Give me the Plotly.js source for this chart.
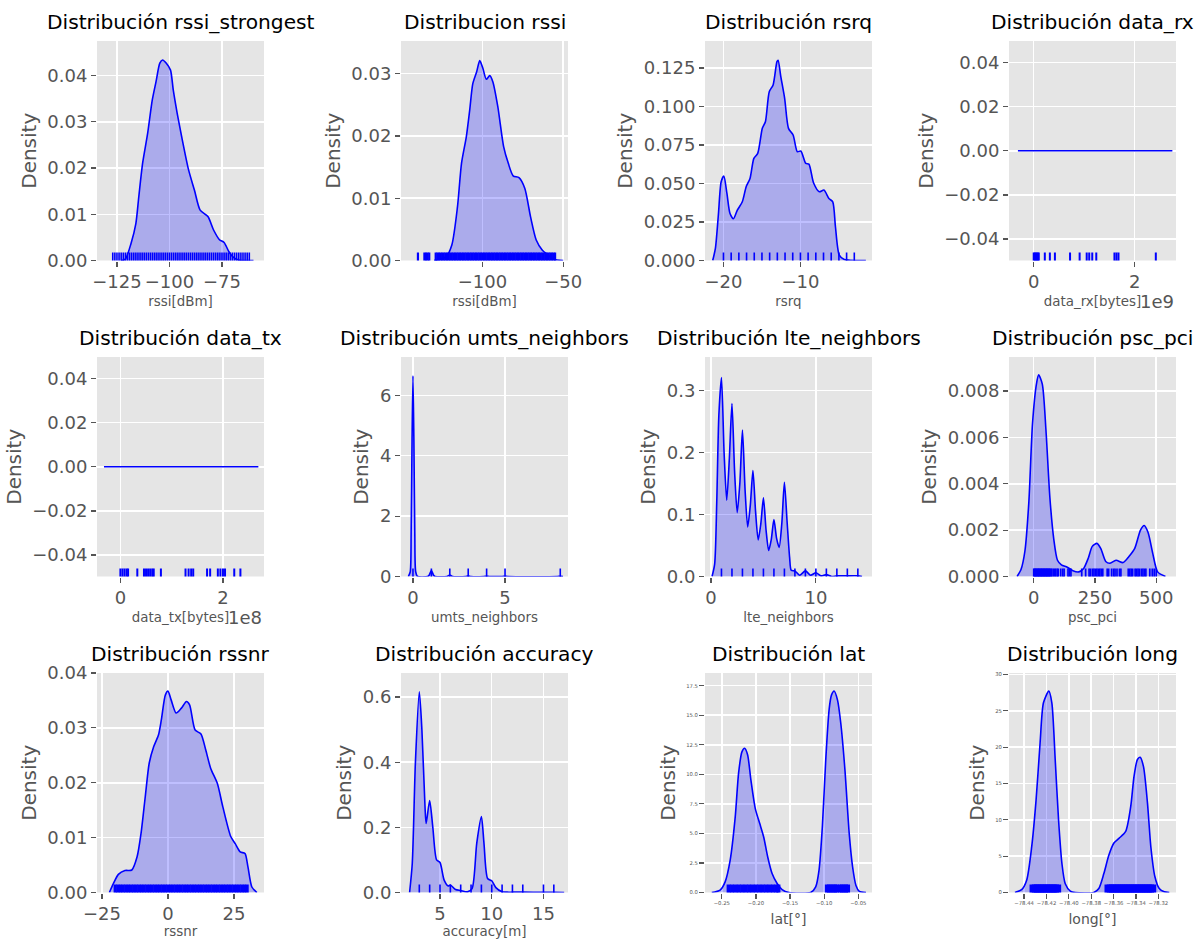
<!DOCTYPE html>
<html>
<head>
<meta charset="utf-8">
<script src="https://cdn.plot.ly/plotly-3.0.1.min.js"></script>
<style>
  html, body { margin: 0; padding: 0; background: white; overflow: hidden; }
</style>
</head>
<body>
<div id="chart" style="width:1199px;height:939px"></div>
<script>
// densities and rug values
const rssiStrongestX = [-123, -121, -118.3, -116, -114.6, -112.8, -110.4, -108.2, -106.4, -104.6, -103.3, -101.5, -99.5, -98.2, -96.3, -94.2, -90.9, -88.1, -85.4, -81.7, -79, -76.2, -74, -71.7, -69.8, -67, -60]
const rssiStrongestY = [0, 0.0003, 0.0037, 0.008, 0.0138, 0.021, 0.0275, 0.0347, 0.0387, 0.0427, 0.0434, 0.0427, 0.0412, 0.0369, 0.0318, 0.0268, 0.0196, 0.0152, 0.0109, 0.0095, 0.0066, 0.0045, 0.0039, 0.0019, 0.0008, 0.0001, 0]
const rssiStrongestRug = [-127, -126, -125, -124, -123, -122, -121, -120, -119, -118, -117, -116, -115, -114, -113, -112, -111, -110, -109, -108, -107, -106, -105, -104, -103, -102, -101, -100, -99, -98, -97, -96, -95, -94, -93, -92, -91, -90, -89, -88, -87, -86, -85, -84, -83, -82, -81, -80, -79, -78, -77, -76, -75, -74, -73, -72, -71, -70, -69, -68, -67, -66, -65, -64, -63, -62]

const rssiX = [-130, -122.6, -119, -115.5, -113, -110, -107.9, -106, -103.6, -101.7, -99.8, -97.6, -95.5, -93.6, -90.5, -86.9, -84, -81, -77.4, -73.8, -70.2, -66.7, -63, -59.5, -56, -50]
const rssiY = [0, 0.0006, 0.0025, 0.0086, 0.0156, 0.0199, 0.0242, 0.0284, 0.0303, 0.0321, 0.0309, 0.0291, 0.0297, 0.0287, 0.0247, 0.0183, 0.0156, 0.0136, 0.0133, 0.0116, 0.007, 0.0033, 0.0017, 0.0009, 0.0002, 0]
const rssiRug = [-140, -136, -135, -134, -133, -129, -128, -127, -126, -125, -124, -123, -122, -121, -120, -119, -118, -117, -116, -115, -114, -113, -112, -111, -110, -109, -108, -107, -106, -105, -104, -103, -102, -101, -100, -99, -98, -97, -96, -95, -94, -93, -92, -91, -90, -89, -88, -87, -86, -85, -84, -83, -82, -81, -80, -79, -78, -77, -76, -75, -74, -73, -72, -71, -70, -69, -68, -67, -66, -65, -64, -63, -62, -61, -60, -59, -58, -57, -56, -55]

const rsrqX = [-21.4, -21.05, -20.65, -20.3, -19.95, -19.55, -19.15, -18.7, -18.2, -17.55, -17.05, -16.55, -16.05, -15.55, -14.95, -14.55, -14.05, -13.55, -13.05, -12.9, -12.55, -12.05, -11.55, -10.95, -10.4, -9.95, -9.3, -8.9, -8.3, -7.55, -6.95, -6.3, -5.8, -5.45, -4.95, -4.3, -3.55, -1.5]
const rsrqY = [0, 0.0078, 0.0305, 0.0511, 0.0548, 0.0435, 0.0305, 0.0271, 0.0327, 0.0381, 0.0479, 0.0533, 0.0663, 0.0695, 0.0858, 0.0901, 0.1096, 0.114, 0.1291, 0.13, 0.1194, 0.1053, 0.0858, 0.0815, 0.0706, 0.0711, 0.063, 0.0626, 0.0505, 0.0446, 0.0457, 0.0403, 0.0381, 0.0219, 0.0035, 0.0006, 0.0002, 0]
const rsrqRug = [-20, -19, -18, -17, -16, -15, -14, -13, -12, -11, -10, -9, -8, -7, -6, -5, -4, -3]

const dataRxX = [-0.313e9, 2.748e9]
const dataRxY = [0, 0]
const dataRxRug = [0, 0.02e9, 0.04e9, 0.06e9, 0.08e9, 0.1e9, 0.22e9, 0.32e9, 0.42e9, 0.72e9, 0.91e9, 1.05e9, 1.1e9, 1.16e9, 1.24e9, 1.6e9, 1.64e9, 1.68e9, 2.42e9]

const dataTxX = [-0.32e8, 2.69e8]
const dataTxY = [0, 0]
const dataTxRug = [0, 0.04e8, 0.08e8, 0.12e8, 0.15e8, 0.33e8, 0.46e8, 0.5e8, 0.54e8, 0.58e8, 0.62e8, 0.65e8, 0.79e8, 1.27e8, 1.33e8, 1.38e8, 1.42e8, 1.69e8, 1.75e8, 1.9e8, 1.95e8, 2e8, 2.04e8, 2.22e8, 2.34e8]

const umtsX = [-0.25, -0.15, -0.1, -0.05, 0, 0.05, 0.1, 0.15, 0.25, 0.8, 0.88, 1, 1.12, 1.2, 1.85, 2, 2.15, 2.85, 3, 3.15, 3.85, 4, 4.15, 4.85, 5, 5.15, 7.85, 8, 8.15]
const umtsY = [0, 0.15, 1.4, 4.5, 6.65, 4.5, 1.4, 0.15, 0, 0, 0.04, 0.2, 0.04, 0, 0, 0.05, 0, 0, 0.02, 0, 0, 0.01, 0, 0, 0.01, 0, 0, 0.01, 0]
const umtsRug = [0, 1, 2, 3, 4, 5, 8]

const lteX = [0.1, 0.35, 0.55, 0.75, 1, 1.25, 1.5, 1.75, 2, 2.25, 2.5, 2.75, 3, 3.25, 3.5, 3.75, 4, 4.25, 4.5, 4.75, 5, 5.25, 5.5, 5.75, 6, 6.25, 6.5, 6.75, 7, 7.25, 7.5, 7.65, 8, 8.45, 9, 9.5, 10, 10.5, 11, 11.5, 12, 13, 14, 14.4]
const lteY = [0, 0.02, 0.12, 0.26, 0.321, 0.2, 0.123, 0.19, 0.279, 0.17, 0.103, 0.15, 0.236, 0.14, 0.08, 0.115, 0.171, 0.105, 0.059, 0.085, 0.127, 0.075, 0.042, 0.06, 0.092, 0.062, 0.047, 0.085, 0.152, 0.09, 0.03, 0.01, 0.009, 0.002, 0.009, 0.002, 0.006, 0.001, 0.003, 0, 0.001, 0.001, 0.001, 0]
const lteRug = [1, 2, 3, 4, 5, 6, 7, 8, 9, 10, 11, 12, 13, 14]

const pscX = [-68, -52, -36, -20, -5, 11, 20, 35, 50, 66, 82, 97, 113, 137, 160, 184, 204, 223, 239, 258, 274, 294, 310, 336, 365, 388, 412, 436, 451, 467, 486, 506, 538]
const pscY = [0, 0.0003, 0.0011, 0.0032, 0.0066, 0.0083, 0.0087, 0.0083, 0.0063, 0.0034, 0.0016, 0.0007, 0.0005, 0.0004, 0.00025, 0.0002, 0.00035, 0.0008, 0.0013, 0.00143, 0.0012, 0.00065, 0.00057, 0.0007, 0.0006, 0.00085, 0.0012, 0.002, 0.0022, 0.0019, 0.001, 0.0002, 0]
const pscRug = [0, 3, 6, 9, 12, 15, 18, 21, 24, 27, 30, 33, 36, 39, 42, 45, 48, 51, 54, 57, 60, 63, 66, 70, 74, 80, 85, 90, 96, 100, 110, 118, 124, 140, 146, 152, 196, 212, 226, 232, 240, 246, 252, 258, 264, 270, 276, 282, 300, 306, 318, 326, 332, 340, 350, 356, 386, 392, 398, 404, 414, 420, 426, 432, 440, 446, 452, 458, 474, 484, 492, 500]

const rssnrX = [-22.2, -20.7, -18.8, -16.3, -13.7, -11.7, -10.2, -8.6, -7.1, -5.4, -3.6, -2.5, -1, 0, 1.2, 3.1, 5.1, 7, 8.2, 10.3, 12.5, 14.3, 16.2, 18.7, 20.8, 23.8, 25.5, 27.4, 29.2, 30.3, 31.8, 33.7]
const rssnrY = [0, 0.0016, 0.0033, 0.004, 0.0041, 0.0065, 0.0108, 0.0175, 0.0236, 0.0266, 0.0287, 0.0315, 0.036, 0.0367, 0.0351, 0.0327, 0.0336, 0.0348, 0.0342, 0.0296, 0.0289, 0.026, 0.0226, 0.0199, 0.0156, 0.0102, 0.0089, 0.0074, 0.0071, 0.0047, 0.001, 0]
const rssnrRug = [-20, -19, -18, -17, -16, -15, -14, -13, -12, -11, -10, -9, -8, -7, -6, -5, -4, -3, -2, -1, 0, 1, 2, 3, 4, 5, 6, 7, 8, 9, 10, 11, 12, 13, 14, 15, 16, 17, 18, 19, 20, 21, 22, 23, 24, 25, 26, 27, 28, 29, 30]

const accuracyX = [2.06, 2.32, 2.62, 3, 3.25, 3.55, 3.66, 4, 4.3, 4.67, 5, 5.4, 5.8, 6, 6.5, 7, 7.65, 8.1, 8.55, 9, 9.25, 9.6, 10, 10.4, 11, 11.5, 12, 13, 15, 16, 17]
const accuracyY = [0, 0.09, 0.397, 0.616, 0.5, 0.264, 0.212, 0.282, 0.202, 0.1, 0.092, 0.038, 0.02, 0.023, 0.009, 0.006, 0.002, 0.012, 0.151, 0.233, 0.151, 0.043, 0.036, 0.015, 0.002, 0.001, 0.001, 0.001, 0.0005, 0.0005, 0]
const accuracyRug = [3, 4, 5, 6, 7, 8, 9, 10, 11, 12, 13, 15, 16]

const latX = [-0.2647, -0.2525, -0.2451, -0.2377, -0.2303, -0.2254, -0.2205, -0.2166, -0.2122, -0.2073, -0.2009, -0.1945, -0.1886, -0.1827, -0.1763, -0.1689, -0.1616, -0.1517, -0.1198, -0.1124, -0.1075, -0.1026, -0.0977, -0.0927, -0.0893, -0.0854, -0.0805, -0.0756, -0.0696, -0.0633, -0.0584, -0.0534, -0.0485, -0.0387]
const latY = [0, 0.2, 0.9, 2.74, 6.4, 10.1, 11.9, 12.2, 11.65, 9.5, 7.1, 5.85, 4.7, 3, 1.6, 0.76, 0.25, 0, 0, 0.48, 1.9, 5.6, 11.2, 15.5, 16.7, 17.05, 16.3, 14.3, 10.4, 5, 2.2, 0.6, 0.1, 0]
const latRug = [-0.24, -0.235, -0.23, -0.225, -0.22, -0.215, -0.21, -0.205, -0.2, -0.195, -0.19, -0.185, -0.18, -0.175, -0.17, -0.167, -0.096, -0.093, -0.09, -0.087, -0.084, -0.0815, -0.077, -0.074, -0.071, -0.068, -0.065]

const longX = [-78.4482, -78.4422, -78.4377, -78.4332, -78.4293, -78.4257, -78.4227, -78.4179, -78.4152, -78.4122, -78.4092, -78.4062, -78.4032, -78.3987, -78.3942, -78.3777, -78.3732, -78.3687, -78.3642, -78.3597, -78.3552, -78.3492, -78.3447, -78.3417, -78.3387, -78.3363, -78.3333, -78.3297, -78.3267, -78.3231, -78.3192, -78.3147, -78.3102]
const longY = [0, 0.4, 1.7, 6.3, 12.7, 20.6, 26.1, 27.7, 26.1, 18.3, 10, 4, 1.2, 0.2, 0, 0, 0.55, 2.6, 5.15, 6.8, 7.45, 8.4, 11.8, 16, 18.3, 18.6, 17.35, 12.3, 6.3, 2.2, 0.55, 0.1, 0]
const longRug = [-78.432, -78.43, -78.428, -78.426, -78.424, -78.422, -78.42, -78.418, -78.416, -78.414, -78.412, -78.41, -78.365, -78.363, -78.361, -78.359, -78.357, -78.355, -78.353, -78.351, -78.349, -78.347, -78.345, -78.343, -78.341, -78.339, -78.337, -78.335, -78.333, -78.331, -78.329, -78.327, -78.325]

const panelTitles = ['Distribución rssi_strongest', 'Distribucion rssi', 'Distribución rsrq', 'Distribución data_rx', 'Distribución data_tx', 'Distribución umts_neighbors', 'Distribución lte_neighbors', 'Distribución psc_pci', 'Distribución rssnr', 'Distribución accuracy', 'Distribución lat', 'Distribución long']
const xLabels = ['rssi[dBm]', 'rssi[dBm]', 'rsrq', 'data_rx[bytes]', 'data_tx[bytes]', 'umts_neighbors', 'lte_neighbors', 'psc_pci', 'rssnr', 'accuracy[m]', 'lat[°]', 'long[°]']

const panels = [
  { x: rssiStrongestX, y: rssiStrongestY, rug: rssiStrongestRug, rugWidth: 1.6, xRange: [-134.5, -55], yRange: [0, 0.0475], xTicks: [-125, -100, -75], yTicks: [0, 0.01, 0.02, 0.03, 0.04], yFormat: '.2f' },
  { x: rssiX, y: rssiY, rug: rssiRug, rugWidth: 2.2, xRange: [-150.5, -47], yRange: [0, 0.03525], xTicks: [-100, -50], yTicks: [0, 0.01, 0.02, 0.03], yFormat: '.2f' },
  { x: rsrqX, y: rsrqY, rug: rsrqRug, rugWidth: 1.6, xRange: [-22.4, -0.7], yRange: [0, 0.1425], xTicks: [-20, -10], yTicks: [0, 0.025, 0.05, 0.075, 0.1, 0.125], yFormat: '.3f' },
  { x: dataRxX, y: dataRxY, rug: dataRxRug, rugWidth: 2, xRange: [-0.49e9, 2.82e9], yRange: [-0.0497, 0.0497], xTicks: [0, 2e9], xText: ['0', '2'], yTicks: [-0.04, -0.02, 0, 0.02, 0.04], yFormat: '.2f', offset: '1e9' },
  { x: dataTxX, y: dataTxY, rug: dataTxRug, rugWidth: 2, xRange: [-0.456e8, 2.8e8], yRange: [-0.0497, 0.0497], xTicks: [0, 2e8], xText: ['0', '2'], yTicks: [-0.04, -0.02, 0, 0.02, 0.04], yFormat: '.2f', offset: '1e8' },
  { x: umtsX, y: umtsY, rug: umtsRug, rugWidth: 1.6, xRange: [-0.65, 8.42], yRange: [0, 7.27], xTicks: [0, 5], yTicks: [0, 2, 4, 6], yFormat: 'd' },
  { x: lteX, y: lteY, rug: lteRug, rugWidth: 1.6, xRange: [-0.57, 15.35], yRange: [0, 0.354], xTicks: [0, 10], yTicks: [0, 0.1, 0.2, 0.3], yFormat: '.1f' },
  { x: pscX, y: pscY, rug: pscRug, rugWidth: 1.7, xRange: [-101, 581], yRange: [0, 0.00947], xTicks: [0, 250, 500], yTicks: [0, 0.002, 0.004, 0.006, 0.008], yFormat: '.3f' },
  { x: rssnrX, y: rssnrY, rug: rssnrRug, rugWidth: 3.2, xRange: [-26.9, 36.4], yRange: [0, 0.04], xTicks: [-25, 0, 25], yTicks: [0, 0.01, 0.02, 0.03, 0.04], yFormat: '.2f' },
  { x: accuracyX, y: accuracyY, rug: accuracyRug, rugWidth: 1.6, xRange: [1.23, 17.37], yRange: [0, 0.674], xTicks: [5, 10, 15], yTicks: [0, 0.2, 0.4, 0.6], yFormat: '.1f' },
  { x: latX, y: latY, rug: latRug, rugWidth: 4, xRange: [-0.2746, -0.0299], yRange: [0, 18.57], xTicks: [-0.25, -0.2, -0.15, -0.1, -0.05], xFormat: '.2f', yTicks: [0, 2.5, 5, 7.5, 10, 12.5, 15, 17.5], yFormat: '.1f', tiny: true },
  { x: longX, y: longY, rug: longRug, rugWidth: 7, xRange: [-78.4535, -78.3042], yRange: [0, 30.2], xTicks: [-78.44, -78.42, -78.4, -78.38, -78.36, -78.34, -78.32], xFormat: '.2f', yTicks: [0, 5, 10, 15, 20, 25, 30], yFormat: 'd', tiny: true },
]

const figWidth = 1199
const figHeight = 939
const plotWidth = 167
const plotHeight = 219.5
const colLeft = [97, 401, 705, 1009]
const rowTop = [41, 357, 673]

const fontFamily = 'DejaVu Sans, sans-serif'
const greyText = '#555555'

const data = []
const annotations = []
const layout = {
  width: figWidth,
  height: figHeight,
  margin: { l: 0, r: 0, t: 0, b: 0 },
  paper_bgcolor: 'white',
  plot_bgcolor: '#E5E5E5',
  showlegend: false,
  font: { family: fontFamily, color: greyText },
}

panels.forEach((p, i) => {
  const id = i === 0 ? '' : String(i + 1)
  const left = colLeft[i % 4]
  const top = rowTop[Math.floor(i / 4)]
  const tickSize = p.tiny ? 5.3 : 18

  const axisBase = {
    showgrid: true,
    gridcolor: 'white',
    gridwidth: 1.5,
    zeroline: false,
    showline: true,
    linecolor: 'white',
    linewidth: 1,
    mirror: true,
    ticks: 'outside',
    ticklen: 5,
    tickwidth: 1.2,
    tickcolor: greyText,
    tickmode: 'array',
    fixedrange: true,
  }

  layout['xaxis' + id] = {
    ...axisBase,
    domain: [left / figWidth, (left + plotWidth) / figWidth],
    anchor: 'y' + id,
    range: p.xRange,
    tickvals: p.xTicks,
    ticktext: p.xText,
    tickformat: p.xFormat || 'd',
    tickfont: { size: tickSize, color: greyText },
    title: { text: xLabels[i], font: { size: p.tiny ? 14 : 13.4, color: greyText }, standoff: p.tiny ? 9 : 5 },
  }
  layout['yaxis' + id] = {
    ...axisBase,
    domain: [1 - (top + plotHeight) / figHeight, 1 - top / figHeight],
    anchor: 'x' + id,
    range: p.yRange,
    tickvals: p.yTicks,
    tickformat: p.yFormat,
    tickfont: { size: tickSize, color: greyText },
    title: { text: 'Density', font: { size: 20, color: greyText }, standoff: 5 },
  }

  data.push({
    x: p.x,
    y: p.y,
    xaxis: 'x' + id,
    yaxis: 'y' + id,
    type: 'scatter',
    mode: 'lines',
    line: { color: 'blue', width: 1.6, shape: 'spline', smoothing: 0.7 },
    fill: 'tozeroy',
    fillcolor: 'rgba(0,0,255,0.25)',
    hoverinfo: 'skip',
  })

  // rug ticks: centred on the bottom edge, the axis clip keeps the upper half
  data.push({
    x: p.rug,
    y: p.rug.map(() => p.yRange[0]),
    xaxis: 'x' + id,
    yaxis: 'y' + id,
    type: 'scatter',
    mode: 'markers',
    cliponaxis: true,
    marker: { symbol: 'line-ns', size: 11.5, color: 'blue', line: { color: 'blue', width: p.rugWidth } },
    hoverinfo: 'skip',
  })

  annotations.push({
    xref: 'paper',
    yref: 'paper',
    x: (left + plotWidth / 2) / figWidth,
    y: 1 - (top - 5) / figHeight,
    xanchor: 'center',
    yanchor: 'bottom',
    showarrow: false,
    text: panelTitles[i],
    font: { size: 20.2, color: 'black' },
  })

  if (p.offset) {
    annotations.push({
      xref: 'paper',
      yref: 'paper',
      x: (left + plotWidth) / figWidth,
      y: 1 - (top + plotHeight + 28) / figHeight,
      xanchor: 'right',
      yanchor: 'top',
      showarrow: false,
      text: p.offset,
      font: { size: 18, color: greyText },
    })
  }
})

layout.annotations = annotations

Plotly.newPlot('chart', data, layout, { displayModeBar: false, staticPlot: true })
</script>
</body>
</html>
